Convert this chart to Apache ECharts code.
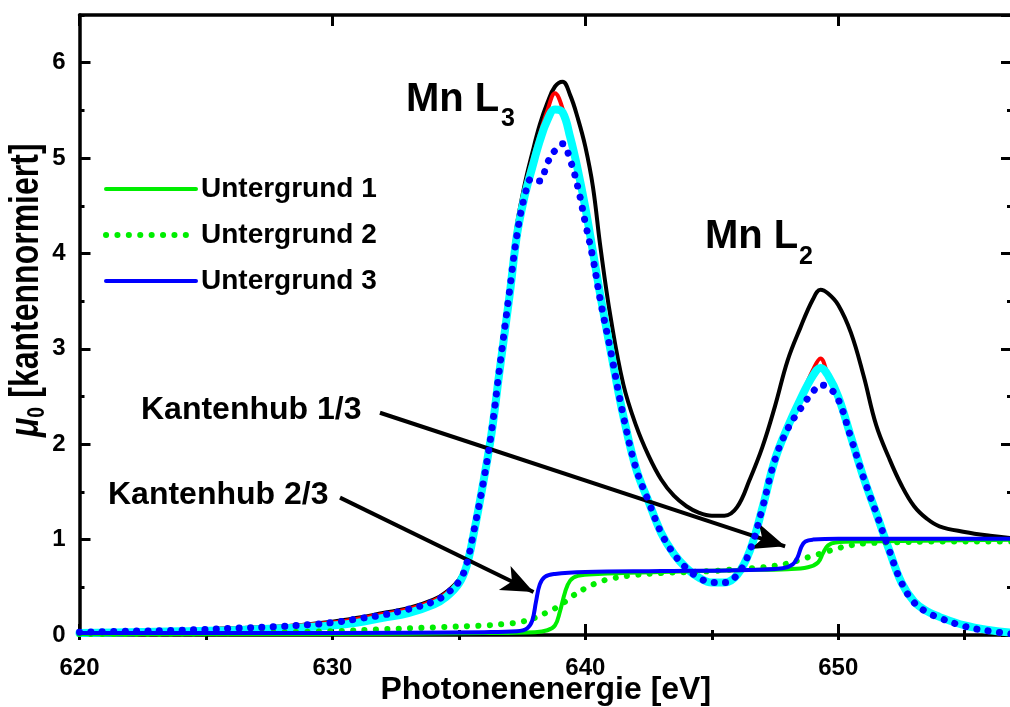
<!DOCTYPE html>
<html>
<head>
<meta charset="utf-8">
<script src="https://cdn.jsdelivr.net/npm/echarts@6/dist/echarts.min.js"></script>
<style>
  html, body { margin: 0; padding: 0; background: #fff; }
  #chart { width: 1010px; height: 707px; }
</style>
</head>
<body>
<div id="chart"></div>
<script>
// Photonenenergie (eV) fuer die Spektren
const energy = [620, 622, 624, 626, 628, 630, 631, 632, 633, 634, 634.5, 635, 635.3, 635.6, 636, 636.3, 636.6, 637, 637.3, 637.6,
  637.9, 638.2, 638.5, 638.8, 639.1, 639.4, 639.7, 640, 640.3, 640.6, 641, 641.5, 642, 642.5, 643, 643.5, 644, 644.5, 645, 645.5,
  646, 646.5, 647, 647.5, 648, 648.5, 649, 649.3, 649.6, 650, 650.5, 651, 651.5, 652, 652.5, 653, 653.5, 654, 655, 656, 657];

// schwarz: Rohspektrum
const rohspektrum = [0.03, 0.04, 0.05, 0.07, 0.09, 0.14, 0.18, 0.23, 0.28, 0.37, 0.45, 0.58, 0.76, 1.1, 1.66, 2.18, 2.8, 3.65, 4.3, 4.72,
  5.05, 5.35, 5.58, 5.75, 5.8, 5.66, 5.42, 5.12, 4.7, 4.06, 3.33, 2.63, 2.2, 1.88, 1.63, 1.46, 1.35, 1.28, 1.25, 1.25,
  1.34, 1.63, 1.97, 2.4, 2.88, 3.22, 3.52, 3.62, 3.58, 3.46, 3.17, 2.72, 2.2, 1.86, 1.57, 1.35, 1.22, 1.14, 1.08, 1.04, 1.01];

// rot
const spektrumRot = [0.03, 0.04, 0.05, 0.07, 0.09, 0.13, 0.17, 0.22, 0.27, 0.36, 0.44, 0.57, 0.75, 1.12, 1.68, 2.15, 2.8, 3.65, 4.31, 4.68,
  4.98, 5.25, 5.5, 5.68, 5.52, 5.2, 4.85, 4.42, 3.98, 3.52, 2.98, 2.3, 1.75, 1.4, 1.07, 0.85, 0.7, 0.6, 0.55, 0.55,
  0.63, 0.88, 1.33, 1.84, 2.18, 2.48, 2.78, 2.9, 2.72, 2.5, 2.08, 1.65, 1.28, 0.9, 0.55, 0.34, 0.24, 0.18, 0.09, 0.04, 0.01];

// cyan
const spektrumCyan = [0.02, 0.03, 0.04, 0.05, 0.07, 0.1, 0.13, 0.18, 0.23, 0.32, 0.4, 0.54, 0.72, 1.08, 1.65, 2.13, 2.75, 3.55, 4.2, 4.6,
  4.9, 5.18, 5.4, 5.51, 5.48, 5.22, 4.88, 4.48, 4.02, 3.55, 2.98, 2.3, 1.75, 1.4, 1.07, 0.85, 0.7, 0.6, 0.55, 0.55,
  0.63, 0.88, 1.33, 1.84, 2.18, 2.47, 2.72, 2.8, 2.72, 2.5, 2.08, 1.65, 1.28, 0.9, 0.55, 0.35, 0.25, 0.19, 0.1, 0.05, 0.02];

// blau gepunktet
const spektrumBlau = [0.03, 0.04, 0.05, 0.07, 0.09, 0.13, 0.17, 0.21, 0.27, 0.35, 0.43, 0.56, 0.74, 1.1, 1.65, 2.15, 2.78, 3.6, 4.2, 4.6,
  4.79, 4.76, 4.95, 5.08, 5.15, 4.98, 4.7, 4.32, 3.95, 3.5, 2.98, 2.3, 1.75, 1.4, 1.07, 0.85, 0.7, 0.6, 0.55, 0.55,
  0.63, 0.88, 1.33, 1.84, 2.16, 2.37, 2.55, 2.62, 2.6, 2.47, 2.07, 1.65, 1.28, 0.9, 0.55, 0.34, 0.24, 0.18, 0.09, 0.04, 0.01];

// Untergrund 1 (gruen)
const ug1X = [620, 630, 636, 638, 638.5, 638.8, 639, 639.2, 639.4, 639.7, 640.5, 643, 646, 648, 648.8, 649.2, 649.4, 649.6, 649.9, 651, 654, 657];
const ug1Y = [0.01, 0.01, 0.02, 0.03, 0.05, 0.1, 0.25, 0.45, 0.57, 0.62, 0.64, 0.66, 0.68, 0.69, 0.71, 0.76, 0.86, 0.94, 0.97, 0.98, 0.99, 1.0];

// Untergrund 2 (gruen gepunktet)
const ug2X = [620, 626, 630, 632, 634, 636, 637, 637.5, 638, 638.5, 639, 639.5, 640, 640.5, 641, 642, 643, 644, 645, 646,
  647, 648, 648.5, 649, 649.5, 650, 650.5, 651, 652, 654, 657];
const ug2Y = [0.01, 0.02, 0.04, 0.06, 0.08, 0.1, 0.12, 0.14, 0.18, 0.24, 0.31, 0.41, 0.49, 0.55, 0.59, 0.63, 0.65, 0.66, 0.67, 0.69,
  0.71, 0.75, 0.79, 0.83, 0.87, 0.91, 0.94, 0.96, 0.97, 0.98, 0.98];

// Untergrund 3 (blau)
const ug3X = [620, 630, 636, 637.3, 637.7, 637.9, 638.05, 638.2, 638.4, 638.8, 640, 643, 646, 647.8, 648.2, 648.4, 648.55, 648.7, 649, 650, 654, 657];
const ug3Y = [0.02, 0.02, 0.03, 0.04, 0.07, 0.15, 0.35, 0.53, 0.61, 0.64, 0.66, 0.67, 0.68, 0.7, 0.74, 0.82, 0.93, 0.98, 1.0, 1.01, 1.01, 1.01];

const legendNames = ['Untergrund 1', 'Untergrund 2', 'Untergrund 3'];

const pair = (xs, ys) => xs.map((x, i) => [x, ys[i]]);
const FONT = '"Liberation Sans", Arial, sans-serif';

const chart = echarts.init(document.getElementById('chart'));

const axisBase = {
  type: 'value',
  min: 620,
  max: 656.87,
  splitLine: { show: false },
  axisLine: { show: true, onZero: false, lineStyle: { color: '#000', width: 3.5 } },
  axisTick: { show: true, inside: true, length: 11, lineStyle: { color: '#000', width: 3 } },
  axisLabel: { show: false }
};
const minorTick = { inside: true, length: 5, lineStyle: { color: '#000', width: 3 } };
const yBase = Object.assign({}, axisBase, { min: 0, max: 6.5 });

function line(name, data, color, width, z, dotted) {
  return {
    name: name,
    type: 'line',
    data: data,
    smooth: 0.4,
    showSymbol: false,
    symbol: 'none',
    z: z,
    animation: false,
    itemStyle: { color: color },
    lineStyle: dotted
      ? { color: color, width: width, type: [0.1, 11.3], cap: 'round' }
      : { color: color, width: width, cap: 'round', join: 'round' }
  };
}

const option = {
  backgroundColor: '#fff',
  animation: false,
  grid: { left: 79.5, top: 15, right: -2, height: 620, containLabel: false, outerBoundsMode: 'none' },
  legend: {
    data: [
      { name: legendNames[0], lineStyle: { width: 4 }, itemStyle: { opacity: 0 } },
      { name: legendNames[1], lineStyle: { width: 6 }, itemStyle: { opacity: 0 } },
      { name: legendNames[2], lineStyle: { width: 4 }, itemStyle: { opacity: 0 } }
    ],
    orient: 'vertical',
    left: 98,
    top: 169,
    itemWidth: 90,
    itemHeight: 14,
    itemGap: 16,
    selectedMode: false,
    textStyle: { fontSize: 28, fontWeight: 'bold', color: '#000', fontFamily: FONT, lineHeight: 30 }
  },
  xAxis: [
    Object.assign({}, axisBase, {
      position: 'bottom', interval: 10,
      axisLabel: { show: true, fontSize: 24, fontWeight: 'bold', color: '#000', fontFamily: FONT, margin: 21, showMaxLabel: false },
      name: 'Photonenenergie [eV]', nameLocation: 'middle', nameGap: 39, nameMoveOverlap: false,
      nameTextStyle: { fontSize: 32, fontWeight: 'bold', color: '#000', fontFamily: FONT }
    }),
    Object.assign({}, axisBase, { position: 'bottom', interval: 5, axisLine: { show: false }, axisTick: minorTick }),
    Object.assign({}, axisBase, { position: 'top', interval: 10 }),
    Object.assign({}, axisBase, { position: 'top', interval: 5, axisLine: { show: false }, axisTick: minorTick })
  ],
  yAxis: [
    Object.assign({}, yBase, {
      position: 'left', interval: 1,
      axisLabel: { show: true, fontSize: 24, fontWeight: 'bold', color: '#000', fontFamily: FONT, margin: 14, showMaxLabel: false }
    }),
    Object.assign({}, yBase, { position: 'left', interval: 0.5, axisLine: { show: false }, axisTick: minorTick }),
    Object.assign({}, yBase, { position: 'right', interval: 1, axisLine: { show: false } }),
    Object.assign({}, yBase, { position: 'right', interval: 0.5, axisLine: { show: false }, axisTick: minorTick })
  ],
  series: [
    line('Rohspektrum', pair(energy, rohspektrum), '#000000', 4, 1),
    line('Spektrum rot', pair(energy, spektrumRot), '#ff0000', 4, 2),
    line('Spektrum cyan', pair(energy, spektrumCyan), '#00ffff', 8, 3),
    line('Untergrund 1', pair(ug1X, ug1Y), '#00ee00', 4, 4),
    line('Untergrund 2', pair(ug2X, ug2Y), '#00ee00', 6, 5, true),
    line('Untergrund 3', pair(ug3X, ug3Y), '#0000ff', 4, 6),
    line('Spektrum blau', pair(energy, spektrumBlau), '#0000ff', 7, 7, true),
    {
      name: 'Pfeile',
      type: 'line',
      data: [],
      z: 10,
      markLine: {
        silent: true,
        animation: false,
        symbol: ['none', 'arrow'],
        symbolSize: [20, 32],
        label: { show: false },
        lineStyle: { color: '#000', width: 4, type: 'solid' },
        emphasis: { disabled: true },
        data: [
          [{ coord: [631.88, 2.33] }, { coord: [647.9, 0.93] }],
          [{ coord: [630.3, 1.44] }, { coord: [637.95, 0.45] }]
        ]
      }
    }
  ],
  graphic: [
    { type: 'text', x: 406, y: 100, z: 20, style: { text: 'Mn L', fill: '#000', font: 'bold 40px ' + FONT, verticalAlign: 'middle' } },
    { type: 'text', x: 501, y: 119, z: 20, style: { text: '3', fill: '#000', font: 'bold 25px ' + FONT, verticalAlign: 'middle' } },
    { type: 'text', x: 705, y: 237, z: 20, style: { text: 'Mn L', fill: '#000', font: 'bold 40px ' + FONT, verticalAlign: 'middle' } },
    { type: 'text', x: 799, y: 257, z: 20, style: { text: '2', fill: '#000', font: 'bold 25px ' + FONT, verticalAlign: 'middle' } },
    { type: 'text', x: 141, y: 410, z: 20, style: { text: 'Kantenhub 1/3', fill: '#000', font: 'bold 32px ' + FONT, verticalAlign: 'middle' } },
    { type: 'text', x: 108, y: 495, z: 20, style: { text: 'Kantenhub 2/3', fill: '#000', font: 'bold 32px ' + FONT, verticalAlign: 'middle' } },
    {
      type: 'group', x: 27.4, y: 437, rotation: Math.PI / 2, scaleX: 0.8, z: 20,
      children: [
        { type: 'text', x: 0, y: 0, style: { text: 'μ', fill: '#000', font: 'italic bold 40px ' + FONT, verticalAlign: 'middle' } },
        { type: 'text', x: 24, y: 10, style: { text: '0', fill: '#000', font: 'bold 24px ' + FONT, verticalAlign: 'middle' } },
        { type: 'text', x: 38, y: 0, style: { text: ' [kantennormiert]', fill: '#000', font: 'bold 40px ' + FONT, verticalAlign: 'middle' } }
      ]
    }
  ]
};

chart.setOption(option);
</script>
</body>
</html>
